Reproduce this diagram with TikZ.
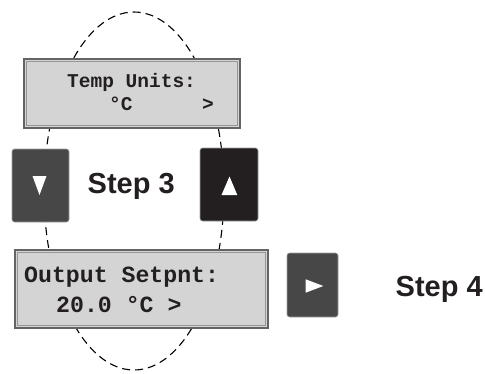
\documentclass[tikz,border=0pt]{standalone}
\usepackage{fontspec}
\setmainfont{Liberation Sans}
\newfontfamily\lcdfont{Liberation Mono}
\definecolor{lcdfill}{RGB}{212,212,212}
\definecolor{lcdedge}{RGB}{100,100,100}
\definecolor{lcdinner}{RGB}{150,150,150}
\definecolor{btngray}{RGB}{71,71,71}
\definecolor{btnblack}{RGB}{35,31,32}
\definecolor{inkdark}{RGB}{35,31,32}
\begin{document}
\begin{tikzpicture}[x=1pt,y=-1pt,
  lcd/.style={draw=lcdedge, line width=1.6pt, fill=lcdfill, inner sep=0pt, anchor=north west},
  lcdbevel/.style={draw=lcdinner, line width=0.8pt},
  lcdsmall/.style={anchor=base west, inner sep=0pt, text=inkdark, font=\lcdfont\bfseries\fontsize{19.5}{20}\selectfont},
  lcdbig/.style={anchor=base west, inner sep=0pt, text=inkdark, font=\lcdfont\bfseries\fontsize{23.2}{24}\selectfont},
  btn/.style={draw=gray!75, line width=0.6pt, rounded corners=2.5pt, inner sep=0pt},
  steptxt/.style={anchor=base west, inner sep=0pt, font=\bfseries\fontsize{29}{30}\selectfont, text=inkdark},
  loop/.style={line width=1.1pt, dash pattern=on 8pt off 5pt}]
\useasboundingbox (0,0) rectangle (485,373);
% dashed loop
\draw[loop] (134,191) ellipse [x radius=90, y radius=179];
% top LCD
\node[lcd, minimum width=216pt, minimum height=69pt] (lcdtop) at (23,58) {};
\draw[lcdbevel] ([shift={(3,3)}]lcdtop.north west) rectangle ([shift={(-3,-3)}]lcdtop.south east);
\node[lcdsmall] (t1) at (67,87) {Temp Units:};
\node[lcdsmall] (t2) at (109,110) {°C};
\node[lcdsmall] (t3) at (202,110) {>};
% bottom LCD
\node[lcd, minimum width=253pt, minimum height=78pt] (lcdbot) at (14,249) {};
\draw[lcdbevel] ([shift={(3,3)}]lcdbot.north west) rectangle ([shift={(-3,-3)}]lcdbot.south east);
\node[lcdbig] (b1) at (24,282) {Output Setpnt:};
\node[lcdbig] (b2) at (56,312) {20.0 °C >};
% buttons
\node[btn, fill=btngray, minimum width=57pt, minimum height=73pt] (down) at (40.5,185.5) {};
\fill[white] ([shift={(-8,-9.5)}]down.center) -- ([shift={(6,-9.5)}]down.center) -- ([shift={(-1,9.5)}]down.center) -- cycle;
\node[btn, fill=btnblack, minimum width=58pt, minimum height=73pt] (up) at (229,184.5) {};
\fill[white] ([shift={(-7.5,10.5)}]up.center) -- ([shift={(8.3,10.5)}]up.center) -- ([shift={(0.5,-8)}]up.center) -- cycle;
\node[btn, fill=btngray, minimum width=51pt, minimum height=64pt] (right) at (312.5,285) {};
\fill[white] ([shift={(-6.8,-5.7)}]right.center) -- ([shift={(-6.8,7.7)}]right.center) -- ([shift={(10.8,1)}]right.center) -- cycle;
% labels
\node[steptxt] (s3) at (87.5,193) {Step 3};
\node[steptxt] (s4) at (395.5,296) {Step 4};
\end{tikzpicture}
\end{document}
